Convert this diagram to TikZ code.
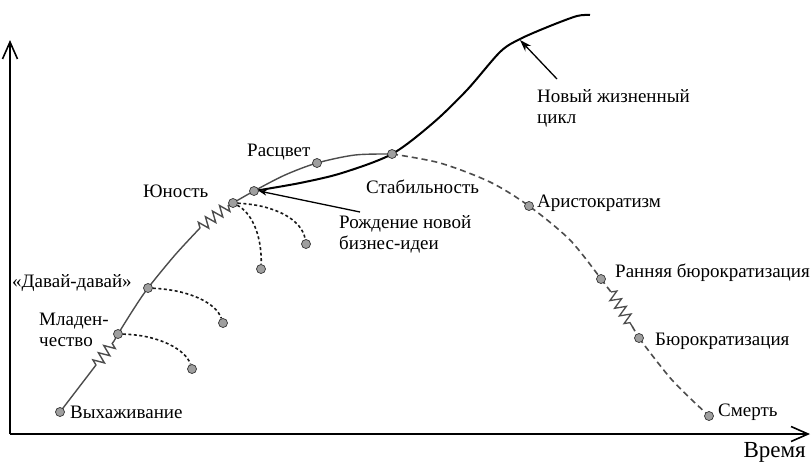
\documentclass[tikz,border=0pt]{standalone}
\usepackage{fontspec}
\setmainfont{Liberation Serif}
\newfontfamily\lblfont{Liberation Serif}
\usetikzlibrary{arrows.meta,decorations.pathmorphing}
\begin{document}
\begin{tikzpicture}[x=1pt,y=-1pt,
  dot/.style={circle,inner sep=0pt,minimum size=9pt,fill=gray!75,draw=gray!40!black,line width=0.7pt},
  lbl/.style={inner sep=0pt,font=\lblfont\fontsize{19}{21}\selectfont,align=left},
  axis/.style={line width=1.8pt,-{Straight Barb[length=17pt,width=15pt,line width=1.6pt]}},
  life/.style={line width=1.4pt,draw=gray!60!black},
  decl/.style={line width=1.6pt,draw=gray!60!black,dash pattern=on 6pt off 4pt},
  branch/.style={line width=1.6pt,draw=gray!20!black,dash pattern=on 3pt off 2.5pt},
  zz/.style={decorate,decoration={zigzag,segment length=9pt,amplitude=5.5pt}},
  newc/.style={line width=2pt,draw=black},
  ptr/.style={line width=1.3pt,-{Stealth[length=12pt,width=8pt]}}]
\useasboundingbox (0,0) rectangle (811,463);
% axes
\coordinate (O) at (10,434);
\coordinate (ytip) at (10,40);
\coordinate (xtip) at (810,434);
\draw[axis] (O) -- (ytip);
\draw[axis] (O) -- (xtip);
% key points
\coordinate (z1a) at (96,365); \coordinate (z1b) at (114,341);
\coordinate (z2a) at (200,228); \coordinate (z2b) at (229,205);
\coordinate (z3a) at (611,292); \coordinate (z3b) at (632,326);
% main growth curve
\draw[life] (60,412) -- (z1a);
\draw[life,zz] (z1a) -- (z1b);
\draw[life] (z1b) -- (118,334);
\draw[life] plot[smooth] coordinates {(118,334) (133,310) (148,288) (175,255) (z2a)};
\draw[life,zz] (z2a) -- (z2b);
\draw[life] (z2b) -- (233,203);
\draw[life] plot[smooth] coordinates {(233,203) (254,191) (285,175) (317,163) (355,155) (392,154)};
% decline
\draw[decl] plot[smooth] coordinates {(392,154) (440,163) (490,182) (529,206) (570,240) (601,279)};
\draw[decl] (601,279) -- (z3a);
\draw[line width=1.3pt,draw=gray!60!black,zz] (z3a) -- (z3b);
\draw[decl] (z3b) -- (639,338);
\draw[decl] plot[smooth] coordinates {(639,338) (672,380) (709,416)};
% new life cycle
\draw[newc] plot[smooth] coordinates {(254,191) (300,183) (342,173) (392,154) (433,123) (467,90) (500,52) (520,39) (550,26) (577,16) (590,15)};
% dots
\node[dot] (vyh) at (60,412) {};
\node[dot] (mlad) at (118,334) {};
\node[dot] (dav) at (148,288) {};
\node[dot] (yun) at (233,203) {};
\node[dot] (rozh) at (254,191) {};
\node[dot] (rasc) at (317,163) {};
\node[dot] (stab) at (392,154) {};
\node[dot] (arist) at (529,206) {};
\node[dot] (rann) at (601,279) {};
\node[dot] (bur) at (639,338) {};
\node[dot] (smert) at (709,416) {};
\node[dot] (e1) at (192,369) {};
\node[dot] (e2) at (223,323) {};
\node[dot] (e3) at (306,244) {};
\node[dot] (e4) at (261,269) {};
% failure branches
\draw[branch] (mlad) .. controls (160,335) and (186,350) .. (e1);
\draw[branch] (dav) .. controls (190,290) and (216,303) .. (e2);
\draw[branch] (yun) .. controls (276,205) and (302,220) .. (e3);
\draw[branch] (yun) .. controls (254,214) and (262,240) .. (e4);
% pointers
\coordinate (p1) at (360,212);
\coordinate (p2) at (557,79);
\coordinate (p2t) at (520,40);
\draw[ptr,-{Stealth[length=8pt,width=6pt]}] (p1) -- (rozh.east);
\draw[ptr] (p2) -- (p2t);
% labels
\node[lbl,anchor=west] (l1) at (70,412) {Выхаживание};
\node[lbl,anchor=west] (l2) at (39,330) {Младен-\\чество};
\node[lbl,anchor=west] (l3) at (12,283) {«Давай-давай»};
\node[lbl,anchor=west] (l4) at (143,191) {Юность};
\node[lbl,anchor=west] (l5) at (247,152) {Расцвет};
\node[lbl,anchor=west] (l6) at (366,187) {Стабильность};
\node[lbl,anchor=west] (l7) at (339,234) {Рождение новой\\бизнес-идеи};
\node[lbl,anchor=west] (l8) at (537,203) {Аристократизм};
\node[lbl,anchor=west] (l9) at (537,108) {Новый жизненный\\цикл};
\node[lbl,anchor=west] (l10) at (615,273) {Ранняя бюрократизация};
\node[lbl,anchor=west] (l11) at (655,341) {Бюрократизация};
\node[lbl,anchor=west] (l12) at (718,412) {Смерть};
\node[inner sep=0pt,font=\lblfont\fontsize{23}{25}\selectfont,anchor=east] (l13) at (806,452) {Время};
\end{tikzpicture}
\end{document}
